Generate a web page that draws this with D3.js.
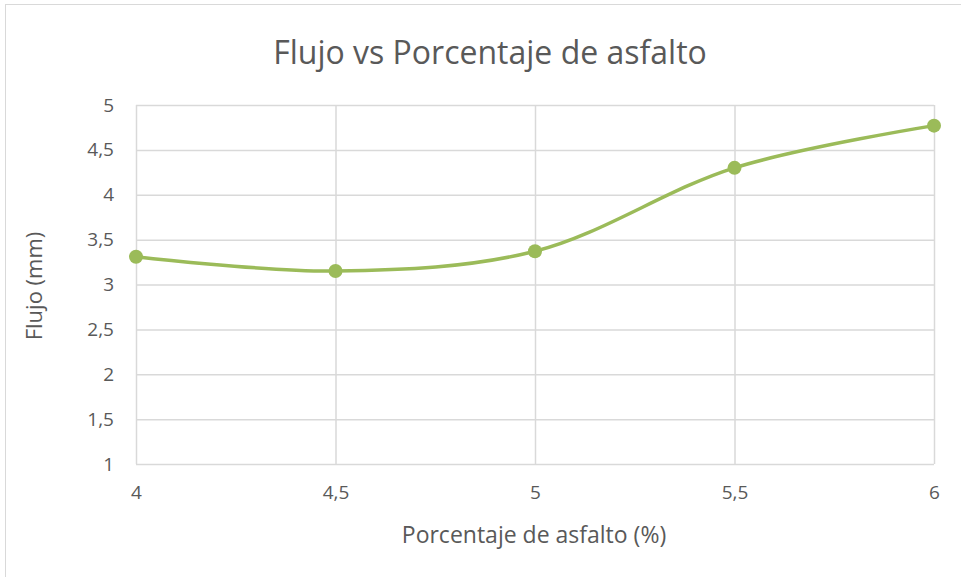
<!DOCTYPE html>
<html>
<head>
<meta charset="utf-8">
<script src="https://cdn.jsdelivr.net/npm/d3@7"></script>
<style>
  html, body { margin: 0; padding: 0; background: #ffffff; }
  svg { display: block; font-family: "Open Sans", "Noto Sans", sans-serif; }
</style>
</head>
<body>
<svg id="chart" width="961" height="577"></svg>
<script>
// Asphalt content (%) and measured flow (mm)
const asfalto = [4, 4.5, 5, 5.5, 6];
const flujo = [3.31, 3.15, 3.37, 4.30, 4.77];
const xTicks = [4, 4.5, 5, 5.5, 6];
const yTicks = [1, 1.5, 2, 2.5, 3, 3.5, 4, 4.5, 5];
const titulo = "Flujo vs Porcentaje de asfalto";
const tituloX = "Porcentaje de asfalto (%)";
const tituloY = "Flujo (mm)";

const svg = d3.select("#chart");
const fmt = d => String(d).replace(".", ",");

const x = d3.scaleLinear().domain([4, 6]).range([136, 934]);
const y = d3.scaleLinear().domain([1, 5]).range([464, 105]);

// Chart frame
svg.append("rect")
  .attr("x", 5.5).attr("y", 4.5)
  .attr("width", 970).attr("height", 590)
  .attr("fill", "#fff").attr("stroke", "#d9d9d9").attr("stroke-width", 1);

// Title
svg.append("text")
  .attr("x", 490).attr("y", 64)
  .attr("text-anchor", "middle")
  .attr("font-size", 32).attr("fill", "#595959")
  .text(titulo);

// Horizontal gridlines + y labels
const yAxis = d3.axisLeft(y).tickValues(yTicks).tickSize(-(934 - 136)).tickFormat(fmt).tickPadding(22);
const gy = svg.append("g").attr("transform", "translate(136,0)").call(yAxis);
gy.select(".domain").remove();
gy.selectAll(".tick line").attr("stroke", "#d9d9d9").attr("stroke-width", 1.5);
gy.selectAll(".tick text").attr("fill", "#595959").attr("font-size", 19)
  .attr("font-family", "'Open Sans', sans-serif");

// Vertical gridlines + x labels
const xAxis = d3.axisBottom(x).tickValues(xTicks).tickSize(-(464 - 105)).tickFormat(fmt).tickPadding(22);
const gx = svg.append("g").attr("transform", "translate(0,464)").call(xAxis);
gx.select(".domain").remove();
gx.selectAll(".tick line").attr("stroke", "#d9d9d9").attr("stroke-width", 1.5);
gx.selectAll(".tick text").attr("fill", "#595959").attr("font-size", 19)
  .attr("font-family", "'Open Sans', sans-serif");

// Axis titles
svg.append("text")
  .attr("x", 534).attr("y", 543)
  .attr("text-anchor", "middle")
  .attr("font-size", 23).attr("fill", "#595959")
  .text(tituloX);

svg.append("text")
  .attr("transform", "translate(42,286) rotate(-90)")
  .attr("text-anchor", "middle")
  .attr("font-size", 22).attr("fill", "#595959")
  .text(tituloY);

// Smoothed series line
const pts = asfalto.map((a, i) => [a, flujo[i]]);
const line = d3.line()
  .x(d => x(d[0])).y(d => y(d[1]))
  .curve(d3.curveCatmullRom.alpha(0.5));

svg.append("path")
  .datum(pts)
  .attr("d", line)
  .attr("fill", "none")
  .attr("stroke", "#9bbb59")
  .attr("stroke-width", 3.5)
  .attr("stroke-linecap", "round");

// Markers
svg.selectAll("circle.pt")
  .data(pts)
  .join("circle")
  .attr("class", "pt")
  .attr("cx", d => x(d[0])).attr("cy", d => y(d[1]))
  .attr("r", 7)
  .attr("fill", "#9bbb59");
</script>
</body>
</html>
